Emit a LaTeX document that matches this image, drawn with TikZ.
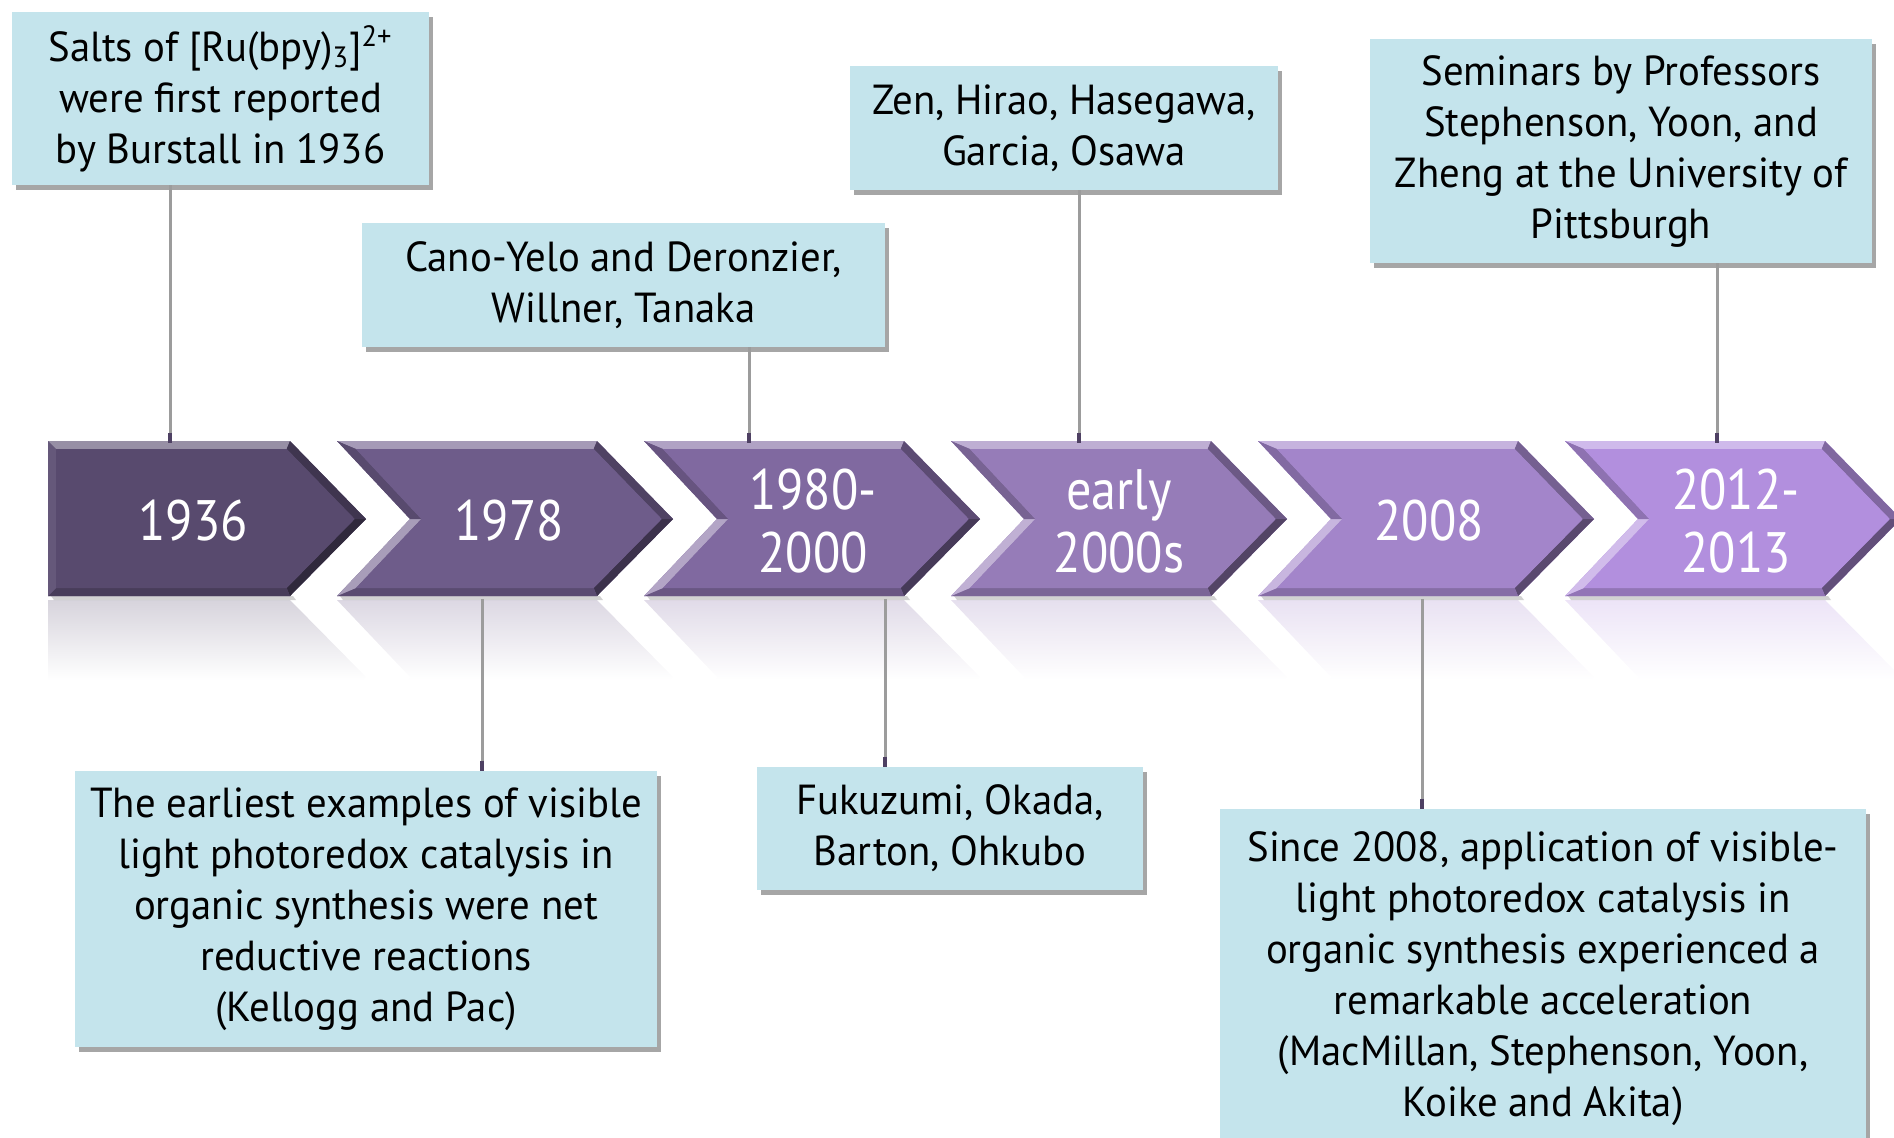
\documentclass[tikz,border=0pt]{standalone}
\usepackage{fontspec}
\setmainfont[FakeStretch=0.97]{PT Sans}
\newfontfamily\yearfont[FakeStretch=0.88]{PT Sans}
\usetikzlibrary{shadows,calc}
\definecolor{boxfill}{HTML}{C4E4EC}
\definecolor{chA}{HTML}{584A6E}
\definecolor{chB}{HTML}{6E5C8A}
\definecolor{chC}{HTML}{8069A0}
\definecolor{chD}{HTML}{967CB8}
\definecolor{chE}{HTML}{A385CA}
\definecolor{chF}{HTML}{B28FDE}
\definecolor{linegray}{HTML}{9C9C9C}
\definecolor{tickdark}{HTML}{4E4063}
\begin{document}
\begin{tikzpicture}[x=0.5pt,y=-0.5pt,
  callout/.style={fill=boxfill, align=center, inner sep=0pt,
    font=\fontsize{21}{25.5}\selectfont,
    drop shadow={shadow xshift=2pt, shadow yshift=-2.5pt, fill=black, opacity=0.35}},
  yeartext/.style={text=white, align=center, inner sep=0pt,
    font=\yearfont\fontsize{28.5}{31.5}\selectfont, minimum height=77.5pt},
  conn/.style={draw=linegray, line width=1.5pt},
  tickmark/.style={draw=tickdark, line width=1.8pt},
]
\useasboundingbox (0,0) rectangle (1894,1137);

% chevrons
\foreach \xL/\xR/\col/\notch in {48/290/chA/0, 337/597/chB/1, 644/904/chC/1, 951/1211/chD/1, 1258/1518/chE/1, 1565/1825/chF/1}{
  \pgfmathsetmacro\xTip{\xR+76}
  \pgfmathsetmacro\xN{\xL+73*\notch}
  \pgfmathsetmacro\xAi{\xL+8+10.9*\notch}
  \pgfmathsetmacro\xFi{\xN+8+3.3*\notch}
  \pgfmathsetmacro\xBi{\xR-3.3}
  \pgfmathsetmacro\xCi{\xTip-11.3}
  \pgfmathsetmacro\xNr{\xN-2.8*\notch}
  % reflection (fading mirror image)
  \shade[top color=\col!24!white, bottom color=white]
    (\xL,600) -- (\xR,600) -- (\xTip,677) -- (\xTip-3,680) -- (\xNr,680) -- (\xN,677) -- cycle;
  % thin shadow under
  \fill[black!35, opacity=0.5] (\xL+3,596) -- (\xR+3,596) -- (\xR+6,600) -- (\xL+6,600) -- cycle;
  % base
  \fill[\col] (\xL,441) -- (\xR,441) -- (\xTip,519) -- (\xR,596) -- (\xL,596) -- (\xN,519) -- cycle;
  % bevel faces
  \fill[\col!62!white] (\xL,441) -- (\xR,441) -- (\xBi,449) -- (\xAi,449) -- cycle;
  \fill[\col!72!black] (\xR,441) -- (\xTip,519) -- (\xCi,519) -- (\xBi,449) -- cycle;
  \fill[\col!55!black] (\xTip,519) -- (\xR,596) -- (\xBi,588) -- (\xCi,519) -- cycle;
  \fill[\col!82!black] (\xR,596) -- (\xL,596) -- (\xAi,588) -- (\xBi,588) -- cycle;
  \ifnum\notch=1
    \fill[\col!60!white] (\xL,596) -- (\xN,519) -- (\xFi,519) -- (\xAi,588) -- cycle;
    \fill[\col!80!black] (\xN,519) -- (\xL,441) -- (\xAi,449) -- (\xFi,519) -- cycle;
  \else
    \fill[\col!92!white] (\xL,596) -- (\xN,519) -- (\xFi,519) -- (\xAi,588) -- cycle;
    \fill[\col!92!white] (\xN,519) -- (\xL,441) -- (\xAi,449) -- (\xFi,519) -- cycle;
  \fi
  \fill[\col] (\xAi,449) -- (\xBi,449) -- (\xCi,519) -- (\xBi,588) -- (\xAi,588) -- (\xFi,519) -- cycle;
}

% year labels
\node[yeartext] (c1) at (193,521) {1936};
\node[yeartext] (c2) at (509,521) {1978};
\node[yeartext] (c3) at (813,521) {1980-\\2000};
\node[yeartext] (c4) at (1119,521) {early\\2000s};
\node[yeartext] (c5) at (1429,521) {2008};
\node[yeartext] (c6) at (1736,521) {2012-\\2013};

% callout boxes
\node[callout, minimum width=208.5pt, minimum height=86.5pt] (b1) at (220.5,98.5)
  {Salts of [Ru(bpy)\textsubscript{3}]\textsuperscript{2+}\\were first reported\\by Burstall in 1936};
\node[callout, minimum width=261.5pt, minimum height=62pt] (b2) at (623.5,285)
  {Cano-Yelo and Deronzier,\\Willner, Tanaka};
\node[callout, minimum width=214pt, minimum height=62pt] (b3) at (1064,128)
  {Zen, Hirao, Hasegawa,\\Garcia, Osawa};
\node[callout, minimum width=251pt, minimum height=112pt] (b4) at (1621,151)
  {Seminars by Professors\\Stephenson, Yoon, and\\Zheng at the University of\\Pittsburgh};
\node[callout, minimum width=291pt, minimum height=138pt] (b5) at (366,909)
  {The earliest examples of visible\\light photoredox catalysis in\\organic synthesis were net\\reductive reactions\\(Kellogg and Pac)};
\node[callout, minimum width=193pt, minimum height=61.5pt] (b6) at (950,828.5)
  {Fukuzumi, Okada,\\Barton, Ohkubo};
\node[callout, minimum width=323pt, minimum height=170pt] (b7) at (1543,979)
  {Since 2008, application of visible-\\light photoredox catalysis in\\organic synthesis experienced a\\remarkable acceleration\\(MacMillan, Stephenson, Yoon,\\Koike and Akita)};

% connector x positions
\coordinate (l1) at (170,0);
\coordinate (l2) at (749,0);
\coordinate (l3) at (1079,0);
\coordinate (l4) at (1717,0);
\coordinate (l5) at (482,0);
\coordinate (l6) at (885,0);
\coordinate (l7) at (1422,0);

% connectors above
\draw[conn] (l1 |- b1.south) -- (l1 |- c1.north);
\draw[conn] (l2 |- b2.south) -- (l2 |- c3.north);
\draw[conn] (l3 |- b3.south) -- (l3 |- c4.north);
\draw[conn] (l4 |- b4.south) -- (l4 |- c6.north);
\draw[tickmark] ($(l1 |- c1.north)+(0,-10)$) -- (l1 |- c1.north);
\draw[tickmark] ($(l2 |- c3.north)+(0,-10)$) -- (l2 |- c3.north);
\draw[tickmark] ($(l3 |- c4.north)+(0,-10)$) -- (l3 |- c4.north);
\draw[tickmark] ($(l4 |- c6.north)+(0,-10)$) -- (l4 |- c6.north);

% connectors below
\draw[conn] (l5 |- c2.south) -- (l5 |- b5.north);
\draw[conn] (l6 |- c3.south) -- (l6 |- b6.north);
\draw[conn] (l7 |- c5.south) -- (l7 |- b7.north);
\draw[tickmark] ($(l5 |- b5.north)+(0,-10)$) -- (l5 |- b5.north);
\draw[tickmark] ($(l6 |- b6.north)+(0,-10)$) -- (l6 |- b6.north);
\draw[tickmark] ($(l7 |- b7.north)+(0,-10)$) -- (l7 |- b7.north);
\end{tikzpicture}
\end{document}
